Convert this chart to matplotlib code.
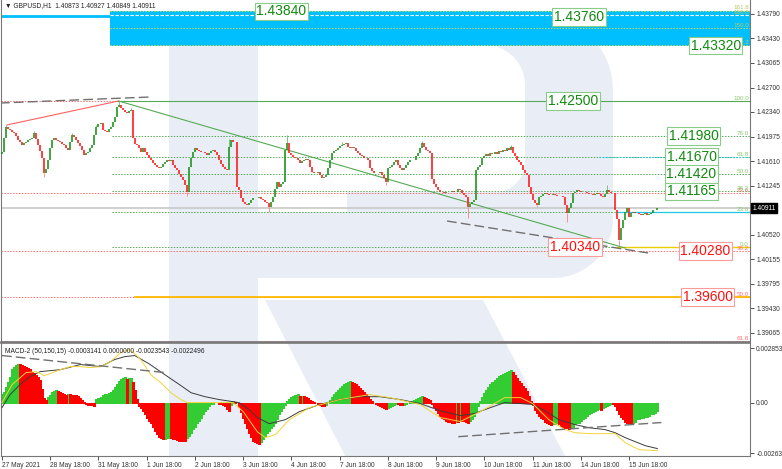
import numpy as np
import matplotlib
matplotlib.use("Agg")
import matplotlib.pyplot as plt
from matplotlib.patches import Polygon, Rectangle
from matplotlib.transforms import Affine2D, blended_transform_factory

plt.rcParams['font.family'] = ['Liberation Sans', 'DejaVu Sans']

# GBPUSD H1 closes, pips above 1.40000 (open of each bar = previous close)
open_first = 172
closes = [
    175, 195, 211, 208, 207, 204, 203, 198, 192, 189,
    185, 188, 190, 192, 194, 195, 203, 194, 185, 176,
    166, 143, 150, 163, 180, 192, 195, 193, 191, 189,
    187, 185, 181, 178, 190, 200, 197, 192, 188, 183,
    178, 170, 173, 175, 180, 185, 200, 212, 216, 218,
    207, 205, 204, 208, 212, 219, 226, 241, 244, 240,
    237, 234, 232, 235, 237, 195, 187, 185, 180, 175,
    180, 174, 170, 166, 163, 158, 155, 153, 151, 152,
    157, 160, 162, 161, 163, 155, 151, 148, 142, 137,
    133, 125, 115, 152, 165, 175, 180, 178, 176, 175,
    174, 173, 170, 173, 176, 178, 174, 170, 163, 157,
    152, 150, 148, 182, 192, 190, 189, 123, 118, 106,
    101, 98, 96, 99, 103, 106, 107, 106, 108, 105,
    103, 101, 99, 93, 100, 108, 120, 130, 123, 127,
    130, 178, 188, 173, 170, 167, 165, 163, 158, 161,
    163, 164, 163, 152, 145, 144, 143, 145, 140, 136,
    138, 140, 151, 162, 173, 176, 178, 180, 183, 185,
    186, 188, 182, 181, 182, 180, 176, 173, 170, 168,
    166, 165, 163, 151, 147, 143, 144, 143, 145, 140,
    136, 130, 151, 153, 155, 159, 163, 155, 151, 148,
    151, 156, 160, 163, 162, 163, 168, 173, 180, 188,
    182, 178, 176, 173, 135, 127, 123, 118, 115, 116,
    114, 116, 115, 115, 117, 115, 116, 119, 118, 114,
    111, 108, 93, 97, 100, 103, 148, 152, 155, 166,
    168, 171, 169, 173, 171, 175, 172, 176, 174, 177,
    176, 180, 178, 182, 173, 168, 163, 159, 155, 148,
    144, 140, 123, 112, 103, 99, 96, 108, 110, 112,
    114, 112, 111, 111, 112, 111, 110, 109, 110, 108,
    96, 84, 92, 99, 114, 116, 118, 117, 116, 115,
    115, 114, 113, 112, 111, 112, 114, 112, 110, 108,
    113, 118, 115, 114, 114, 89, 76, 44, 62, 74,
    86, 92, 78, 84, 85, 84, 84, 82, 81, 83,
    84, 81, 82, 84, 89, 88, 91.1,
]
hi_bars = [2, 16, 35, 47, 58, 64, 113, 142, 169, 209, 253, 301]
hi_vals = [214, 206, 203, 214, 250, 240, 194, 199, 189, 191, 185, 126]
lo_bars = [21, 92, 133, 191, 232, 266, 281, 307]
lo_vals = [137, 110, 86, 126, 77, 93, 71, 36]

# MACD-2 histogram, units of 1e-5
hist = [
    47, 57, 83, 109, 135, 177, 187, 198, 203, 200,
    198, 192, 187, 182, 177, 161, 156, 146, 135, 120,
    73, 26, 16, 31, 42, 57, 62, 65, 62, 57,
    49, 44, 42, 47, 44, 42, 41, 39, 36, 26,
    16, 5, -5, -10, -11, -13, -16, 21, 26, 31,
    39, 44, 47, 52, 57, 68, 83, 99, 114, 122,
    130, 133, 125, 127, 130, 109, 68, 21, -16, -26,
    -42, -57, -78, -94, -109, -125, -146, -166, -179, -187,
    -192, -190, -187, -185, -187, -190, -192, -195, -198, -199,
    -201, -203, -187, -177, -161, -140, -125, -109, -94, -78,
    -57, -42, -31, -16, -8, -5, -4, -3, -5, -8,
    -10, -16, -31, -42, -10, 10, 5, 0, -21, -47,
    -78, -109, -135, -161, -182, -198, -208, -213, -214, -208,
    -192, -177, -161, -146, -135, -120, -104, -83, -62, -42,
    -26, -10, 10, 21, 31, 36, 42, 43, 36, 37,
    36, 31, 26, 16, 10, 5, 0, -5, -10, -16,
    -17, -10, 0, 16, 31, 47, 57, 68, 78, 88,
    99, 104, 109, 111, 109, 104, 99, 88, 78, 68,
    57, 47, 36, 21, 10, 0, -5, -10, -16, -21,
    -26, -31, -26, -21, -16, -10, -5, -6, -10, -11,
    -10, -5, 0, 5, 10, 16, 21, 26, 31, 36,
    31, 26, 21, 16, -5, -21, -36, -52, -68, -78,
    -88, -94, -99, -100, -104, -105, -99, -100, -94, -95,
    -97, -99, -104, -94, -83, -68, -42, -16, 10, 31,
    52, 68, 83, 99, 109, 120, 130, 140, 146, 151,
    156, 161, 166, 172, 161, 146, 130, 114, 104, 88,
    78, 62, 36, 10, -10, -36, -52, -68, -78, -88,
    -99, -109, -114, -116, -112, -110, -109, -114, -120, -125,
    -130, -135, -137, -130, -125, -114, -109, -104, -94, -83,
    -78, -68, -62, -52, -47, -42, -36, -35, -38, -26,
    -21, -16, -10, -5, -8, -16, -36, -57, -73, -88,
    -99, -104, -109, -110, -104, -99, -88, -83, -82, -78,
    -75, -73, -68, -62, -57, -52, -42,
]
# MACD main line and signal line, sampled bars, units of 1e-5
macd_x = [0, 4, 9, 14, 19, 29, 39, 49, 56, 61, 66, 73, 81, 89, 94, 101, 108, 118,
          123, 127, 133, 141, 148, 158, 168, 178, 188, 198, 208, 218, 228, 235,
          243, 250, 258, 264, 270, 277, 285, 292, 300, 305, 310, 315, 320, 326]
macd_v = [-26, 42, 94, 136, 162, 172, 199, 188, 225, 240, 246, 204, 146, 89, 52, 31,
          16, 0, -37, -78, -110, -89, -47, -10, 16, 31, 31, 16, -5, -42, -68, -57,
          -26, 0, -5, -10, -42, -89, -115, -131, -141, -157, -183, -204, -225, -240]
sig_x = [0, 5, 12, 17, 21, 24, 29, 34, 39, 44, 49, 54, 59, 63, 65, 69, 74, 79, 84,
         89, 92, 99, 107, 115, 120, 127, 131, 136, 143, 153, 168, 183, 193, 208,
         218, 228, 238, 250, 258, 264, 272, 280, 285, 292, 305, 310, 317, 326]
sig_v = [0, 94, 157, 162, 141, 152, 172, 188, 188, 183, 188, 214, 261, 277, 266, 225,
         146, 104, 52, 16, 0, 0, 0, 0, -47, -152, -183, -167, -89, -26, 16, 42, 26,
         -10, -78, -99, -47, 26, 26, -5, -89, -141, -157, -162, -162, -209, -246, -251]

day_labels = ["27 May 2021", "28 May 18:00", "31 May 18:00", "1 Jun 18:00", "2 Jun 18:00",
              "3 Jun 18:00", "4 Jun 18:00", "7 Jun 18:00", "8 Jun 18:00", "9 Jun 18:00",
              "10 Jun 18:00", "11 Jun 18:00", "14 Jun 18:00", "15 Jun 18:00"]
price_ticks = [1.43790, 1.43430, 1.43065, 1.42700, 1.42340, 1.41975, 1.41610, 1.41245,
               1.40520, 1.40155, 1.39795, 1.39430, 1.39065]
macd_ticks = [0.0028535, 0.0, -0.0026327]
macd_tick_labels = ["0.0028535", "0.00", "-0.0026327"]
last_price = 1.40911

green_fib = [1.4250, 1.4198, 1.4167, 1.4142, 1.41165, 1.4085, 1.4034]
green_fib_txt = ["100.0", "76.0", "61.8", "50.0", "38.2", "23.6", "0.0"]
red_fib = [1.4250, 1.4114, 1.4028, 1.3960, 1.3894]
red_fib_txt = ["0.0", "23.6", "38.2", "50.0", "61.8"]
ext_fib = [1.4384, 1.4377, 1.4358, 1.4333]
ext_fib_txt = ["161.8", "100.0", "150.0", "138.2"]

tags = ["1.43840", "1.43760", "1.43320", "1.42500", "1.41980", "1.41670", "1.41420",
        "1.41165", "1.40340", "1.40280", "1.39600"]
tag_levels = [1.4383, 1.43745, 1.4332, 1.4250, 1.4198, 1.4167, 1.4142, 1.41165,
              1.4034, 1.4028, 1.3960]
tag_bars = [139, 287, 355, 284, 344, 343, 343, 343, 285, 350, 351]
tag_red = [False] * 8 + [True] * 3

W, H = 782, 469
fig = plt.figure(figsize=(W / 100, H / 100), dpi=100)
ax = fig.add_axes([1 / W, 1 - 342 / H, 749 / W, 342 / H])
mx = fig.add_axes([1 / W, 1 - 456 / H, 749 / W, 113 / H], sharex=ax)
px = Affine2D().scale(1 / W, -1 / H).translate(0, 1) + fig.transFigure

XMIN, XMAX = -0.5, 372.1
END = XMAX


def rounded(x0, y0, x1, y1, rt, rb, n=24):
    pts = [(x0, y0), (x1 - rt, y0)]
    a = np.linspace(-np.pi / 2, 0, n)
    pts += list(zip(x1 - rt + rt * np.cos(a), y0 + rt + rt * np.sin(a)))
    a = np.linspace(0, np.pi / 2, n)
    pts += list(zip(x1 - rb + rb * np.cos(a), y1 - rb + rb * np.sin(a)))
    pts += [(x0, y1)]
    return pts


# RoboForex "R" watermark, drawn in both panels
wm = '#e9eef6'
for a in (ax, mx):
    a.add_patch(Rectangle((169, 15), 89, 460, transform=px, fc=wm, ec='none', zorder=0))
    a.add_patch(Polygon(rounded(200, 15, 613, 278, 75, 60), transform=px, fc=wm, ec='none', zorder=0))
    a.add_patch(Polygon(rounded(258, 45, 525, 192, 40, 30), transform=px, fc='white', ec='none', zorder=0.1))
    a.add_patch(Rectangle((258, 150), 89, 62, transform=px, fc='white', ec='none', zorder=0.1))
    a.add_patch(Polygon([(265, 300), (483, 300), (575, 475), (355, 475)], transform=px,
                        fc=wm, ec='none', zorder=0))

# price panel
c = 1.4 + np.array(closes) / 1e4
o = np.concatenate([[1.4 + open_first / 1e4], c[:-1]])
idx = np.arange(len(c))
lo_b = np.minimum(o, c)
hi_b = np.maximum(np.maximum(o, c), lo_b + 0.00004)
up = c >= o
for b, v in zip(hi_bars, hi_vals):
    col = '#66bb66' if up[b] else '#ff8080'
    ax.vlines(b, hi_b[b], 1.4 + v / 1e4, color=col, lw=0.6, zorder=3)
for b, v in zip(lo_bars, lo_vals):
    col = '#66bb66' if up[b] else '#ff8080'
    ax.vlines(b, 1.4 + v / 1e4, lo_b[b], color=col, lw=0.6, zorder=3)
ax.vlines(idx[up], lo_b[up], hi_b[up], color='#1e961e', lw=1.2, zorder=3)
ax.vlines(idx[~up], lo_b[~up], hi_b[~up], color='#ff1e1e', lw=1.2, zorder=3)

# extension zone
ax.add_patch(Rectangle((53.7, ext_fib[3] - 0.0001), END - 53.7, ext_fib[0] - ext_fib[3] + 0.0001,
                       fc='#00bfff', ec='none', zorder=1))
ax.plot([XMIN, END], [1.43765, 1.43765], color='#00bfff', lw=2.0, zorder=1)
ax.plot([53.7, END], [ext_fib[1], ext_fib[1]], color='white', lw=0.8, ls=(0, (3, 1.5)), zorder=2)
for lv in (ext_fib[0], ext_fib[2], ext_fib[3]):
    ax.plot([53.7, END], [lv, lv], color='#c8d860', lw=0.7, ls=(0, (1.5, 1.5)), zorder=2)
for lv, t in zip(ext_fib, ext_fib_txt):
    ax.text(END - 0.5, lv + 0.00003, t, ha='right', va='bottom', fontsize=4.5, color='#b8c860', zorder=4)

# red fib (from left edge)
for lv, t in zip(red_fib, red_fib_txt):
    ax.plot([XMIN, END], [lv, lv], color='#ff7070', lw=0.7, ls=(0, (1.5, 1.5)), zorder=1.5)
    if t != "0.0":
        ax.text(END - 0.5, lv + 0.00003, t, ha='right', va='bottom', fontsize=4.5, color='#ff7070', zorder=4)
ax.plot([66, END], [red_fib[3], red_fib[3]], color='#ffb800', lw=1.3, zorder=1.6)

# green fib
ax.plot([56, END], [green_fib[0], green_fib[0]], color='#55aa55', lw=0.8, zorder=1.6)
for lv in green_fib[1:]:
    ax.plot([54.7, END], [lv, lv], color='#55aa55', lw=0.7, ls=(0, (1.5, 1.5)), zorder=1.6)
ax.plot([297, END], [green_fib[2], green_fib[2]], color='#1ec8e6', lw=0.8, ls=(0, (1.5, 1.5)), zorder=1.7)
ax.plot([306, END], [green_fib[5], green_fib[5]], color='#1ec8e6', lw=0.9, zorder=1.7)
ax.plot([306, END], [green_fib[6], green_fib[6]], color='#e8d000', lw=1.0, zorder=1.7)
for lv, t in zip(green_fib, green_fib_txt):
    ax.text(END - 0.5, lv + 0.00003, t, ha='right', va='bottom', fontsize=4.5, color='#8cc86c', zorder=4)

# current price line
ax.axhline(last_price, color='#c8c8c8', lw=1.2, zorder=1.2)

# trend lines
ax.plot([2.5, 58], [1.42146, 1.42501], color='#ff6060', lw=0.8, zorder=2.5)
ax.plot([58, 310], [1.42501, 1.40323], color='#55aa55', lw=0.8, zorder=2.5)
ax.plot([-1, 73.6], [1.42471, 1.42560], color='#707070', lw=1.0, ls=(0, (7, 3)), zorder=2.5)
ax.plot([221.4, 321.4], [1.40723, 1.40250], color='#707070', lw=1.0, ls=(0, (7, 3)), zorder=2.5)

# level tags
for t, lv, b, red in zip(tags, tag_levels, tag_bars, tag_red):
    ax.text(b, lv, t, ha='center', va='center', fontsize=10,
            color='#ff1010' if red else '#108a10', zorder=6,
            bbox=dict(boxstyle='square,pad=0.12', fc='white', ec='#ff9a9a' if red else '#88cc88', lw=0.8))

ax.text(0.005, 0.995, "\u25bc GBPUSD,H1  1.40873 1.40927 1.40849 1.40911", transform=ax.transAxes,
        ha='left', va='top', fontsize=4.8, color='#222222', zorder=7)

bt = blended_transform_factory(ax.transAxes, ax.transData)
ax.text(1.003, last_price, "1.40911", transform=bt, ha='left', va='center', fontsize=4.8,
        color='white', clip_on=False, zorder=8,
        bbox=dict(boxstyle='square,pad=0.2', fc='black', ec='black'))

# MACD panel: green while the histogram rises, red while it falls
hv = np.array(hist) / 1e5
rising = np.concatenate([[True], np.diff(hist) >= 0])
hx = np.arange(len(hist))
mx.vlines(hx[rising], 0, hv[rising], colors='#33cc33', lw=1.0, antialiased=False, zorder=2)
mx.vlines(hx[~rising], 0, hv[~rising], colors='#ff0000', lw=1.0, antialiased=False, zorder=2)
mx.plot(macd_x, np.array(macd_v) / 1e5, color='#3c3c3c', lw=0.7, zorder=3)
mx.plot(sig_x, np.array(sig_v) / 1e5, color='#f2d43a', lw=0.7, zorder=3)
mx.plot([0, 81], [0.00246, 0.00157], color='#707070', lw=1.0, ls=(0, (7, 3)), zorder=3)
mx.plot([227, 328], [-0.00178, -0.00104], color='#707070', lw=1.0, ls=(0, (7, 3)), zorder=3)
mx.text(0.005, 0.96, "MACD-2 (50,150,15) -0.0003141 0.0000000 -0.0023543 -0.0022496",
        transform=mx.transAxes, ha='left', va='top', fontsize=4.8, color='#222222', zorder=7)

# axes
ax.set_xlim(XMIN, XMAX)
ax.set_ylim(1.38931, 1.43997)
mx.set_ylim(-0.002789, 0.003115)
ax.yaxis.tick_right()
ax.set_yticks(price_ticks)
ax.set_yticklabels(["%.5f" % v for v in price_ticks])
mx.yaxis.tick_right()
mx.set_yticks(macd_ticks)
mx.set_yticklabels(macd_tick_labels)
mx.set_xticks(list(range(0, 24 * len(day_labels), 24)))
mx.set_xticklabels(day_labels, ha='left')
ax.tick_params(axis='x', which='both', bottom=False, labelbottom=False)
for a in (ax, mx):
    a.tick_params(axis='y', labelsize=4.8, length=3, width=0.6, colors='#333333', pad=1.5)
    for s in a.spines.values():
        s.set_color('#777777')
        s.set_linewidth(0.8)
mx.tick_params(axis='x', labelsize=4.8, length=3, width=0.6, colors='#333333', pad=1.5)
ax.spines['top'].set_visible(False)
ax.spines['bottom'].set_linewidth(1.2)
mx.spines['top'].set_linewidth(1.2)

fig.savefig('out.png', dpi=100, facecolor='white')
